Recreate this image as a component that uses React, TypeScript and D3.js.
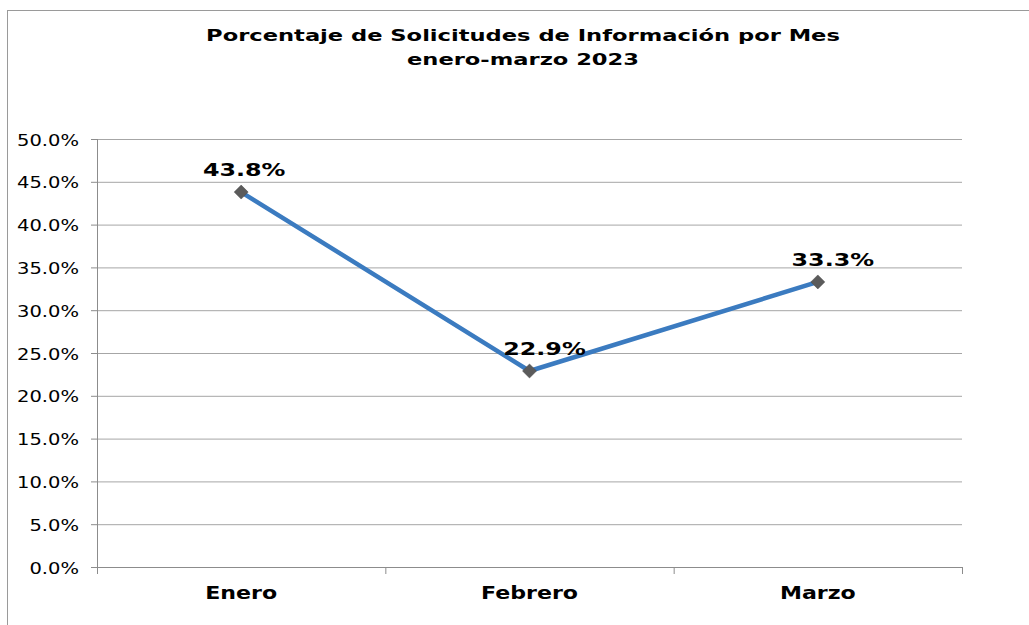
import React from "react";
import * as d3 from "d3";

const months = ["Enero", "Febrero", "Marzo"];
const percentages = [43.8, 22.9, 33.3];
const yTicks = [0, 5, 10, 15, 20, 25, 30, 35, 40, 45, 50];
const titleLines = ["Porcentaje de Solicitudes de Información por Mes", "enero-marzo 2023"];

const W = 1029;
const H = 625;
const left = 97;
const right = 962;
const top = 139;
const bottom = 567;
const font = "'DejaVu Sans', Verdana, sans-serif";

// the reference text is wide (Verdana-like), so stretch DejaVu horizontally
const Txt = ({ x, y, sx, size, bold, anchor, children }: any) => (
  <text
    transform={`translate(${x},${y}) scale(${sx},1)`}
    textAnchor={anchor ?? "middle"}
    fontFamily={font}
    fontWeight={bold ? "bold" : "normal"}
    fontSize={size}
    fill="#000"
  >
    {children}
  </text>
);

const App = () => {
  const x = d3.scaleBand<string>().domain(months).range([left, right]).padding(0);
  const y = d3.scaleLinear().domain([0, 50]).range([bottom, top]);
  const cx = (m: string) => (x(m) ?? 0) + x.bandwidth() / 2;

  const line = d3
    .line<number>()
    .x((_, i) => cx(months[i]))
    .y((d) => y(d));

  const boundaries = [...months.map((m) => x(m) ?? 0), right];
  const diamond = d3.symbol().type(d3.symbolDiamond2).size(125)();

  return (
    <svg width={W} height={H} style={{ position: "absolute", left: 0, top: 0, background: "#fff" }}>
      <rect x={7.5} y={10.5} width={W + 20} height={H + 20} fill="#fff" stroke="#9a9a9a" strokeWidth={1} />
      {titleLines.map((t, i) => (
        <Txt key={t} x={523} y={41 + i * 23.5} sx={1.37} size={16.5} bold>
          {t}
        </Txt>
      ))}
      {yTicks.map((t) => (
        <g key={t}>
          {t > 0 && <line x1={left} x2={right} y1={y(t) + 0.5} y2={y(t) + 0.5} stroke="#a6a6a6" strokeWidth={1} />}
          <line x1={left - 6} x2={left} y1={y(t) + 0.5} y2={y(t) + 0.5} stroke="#8c8c8c" strokeWidth={1} />
          <Txt x={79} y={y(t) + 6.5} sx={1.22} size={16} anchor="end">
            {t.toFixed(1)}%
          </Txt>
        </g>
      ))}
      <line x1={left + 0.5} x2={left + 0.5} y1={top} y2={bottom + 6} stroke="#8c8c8c" strokeWidth={1} />
      <line x1={left} x2={right} y1={bottom + 0.5} y2={bottom + 0.5} stroke="#8c8c8c" strokeWidth={1} />
      {boundaries.map((b, i) => (
        <line key={i} x1={b + 0.5} x2={b + 0.5} y1={bottom} y2={bottom + 7} stroke="#8c8c8c" strokeWidth={1} />
      ))}
      {months.map((m) => (
        <Txt key={m} x={cx(m)} y={599} sx={1.3} size={17} bold>
          {m}
        </Txt>
      ))}
      <path d={line(percentages) ?? ""} fill="none" stroke="#3b7bc0" strokeWidth={4.5} strokeLinejoin="round" />
      {percentages.map((v, i) => (
        <path key={i} d={diamond ?? ""} transform={`translate(${cx(months[i])},${y(v)})`} fill="#5b5b5b" stroke="#4a4a4a" strokeWidth={0.5} />
      ))}
      {percentages.map((v, i) => (
        <Txt key={"l" + i} x={cx(months[i]) + [3, 15, 15][i]} y={y(v) - 16} sx={1.36} size={17.5} bold>
          {v.toFixed(1)}%
        </Txt>
      ))}
    </svg>
  );
};

export default App;
